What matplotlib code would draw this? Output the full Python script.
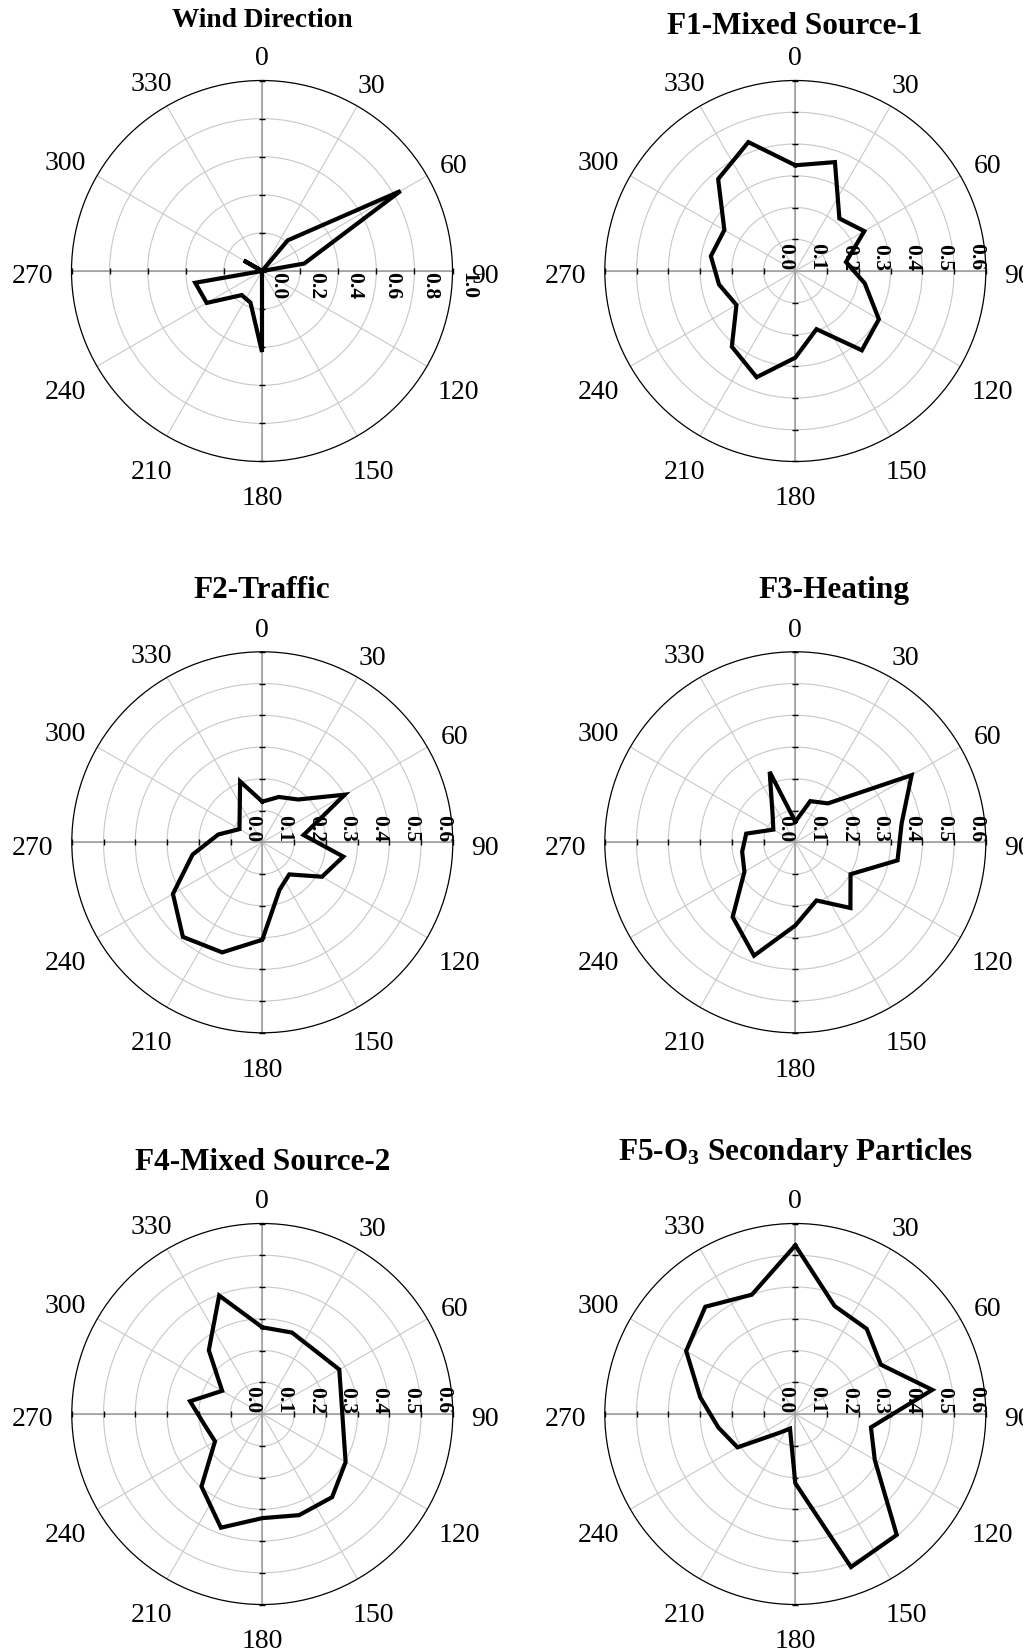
import numpy as np
import matplotlib
matplotlib.use("Agg")
import matplotlib.pyplot as plt
from matplotlib.patches import Rectangle

plt.rcParams['font.family'] = ['Liberation Serif', 'DejaVu Serif']
plt.rcParams['mathtext.fontset'] = 'custom'
plt.rcParams['mathtext.rm'] = 'Liberation Serif:bold'
plt.rcParams['mathtext.bf'] = 'Liberation Serif:bold'
plt.rcParams['mathtext.it'] = 'Liberation Serif:italic:bold'

# ---------------- data ----------------
directions = [0, 20, 40, 60, 80, 100, 120, 140, 160, 180,
              200, 220, 240, 260, 280, 300, 320, 340]

wind_direction = [0.0, 0.0, 0.21, 0.84, 0.225, 0.0, 0.0, 0.0, 0.0, 0.425,
                  0.177, 0.165, 0.335, 0.356, 0.0, 0.11, 0.0, 0.0]
f1_mixed_source_1 = [0.333, 0.365, 0.216, 0.251, 0.162, 0.222, 0.304, 0.326, 0.195, 0.273,
                     0.356, 0.311, 0.214, 0.244, 0.270, 0.258, 0.378, 0.432]
f2_traffic = [0.128, 0.152, 0.176, 0.300, 0.132, 0.259, 0.217, 0.132, 0.159, 0.307,
              0.369, 0.389, 0.325, 0.223, 0.141, 0.083, 0.111, 0.204]
f3_heating = [0.065, 0.138, 0.160, 0.423, 0.340, 0.327, 0.201, 0.270, 0.195, 0.262,
              0.380, 0.307, 0.185, 0.170, 0.157, 0.080, 0.111, 0.236]
f4_mixed_source_2 = [0.273, 0.273, 0.260, 0.280, 0.253, 0.259, 0.303, 0.342, 0.339, 0.328,
                     0.381, 0.298, 0.172, 0.186, 0.231, 0.146, 0.262, 0.397]
f5_o3_secondary = [0.531, 0.362, 0.350, 0.311, 0.438, 0.242, 0.289, 0.497, 0.513, 0.218,
                   0.049, 0.077, 0.210, 0.246, 0.304, 0.397, 0.441, 0.400]

titles = ["Wind Direction", "F1-Mixed Source-1", "F2-Traffic", "F3-Heating",
          "F4-Mixed Source-2", r"F5-O$_{\mathbf{3}}$ Secondary Particles"]

angle_ticks = [0, 30, 60, 90, 120, 150, 180, 210, 240, 270, 300, 330]
angle_labels = ["0", "30", "60", "90", "120", "150", "180", "210", "240", "270", "300", "330"]

wind_rticks = [0.0, 0.2, 0.4, 0.6, 0.8, 1.0]
wind_rlabels = ["0.0", "0.2", "0.4", "0.6", "0.8", "1.0"]
factor_rticks = [0.0, 0.1, 0.2, 0.3, 0.4, 0.5, 0.6]
factor_rlabels = ["0.0", "0.1", "0.2", "0.3", "0.4", "0.5", "0.6"]

# ---------------- layout ----------------
W, H = 1032, 1648
RPX = 190.5
PX2PT = 72.0 / 100.0

fig = plt.figure(figsize=(W / 100, H / 100), dpi=100)
fig.patch.set_facecolor("white")

panels = [
    # values, center px, ticks, labels, wind-style labels, title x, title baseline, title size
    (wind_direction, (262.0, 271.0), wind_rticks, wind_rlabels, True, 262.4, 27, 19.7),
    (f1_mixed_source_1, (795.3, 271.0), factor_rticks, factor_rlabels, False, 795.0, 34, 22.5),
    (f2_traffic, (262.3, 842.3), factor_rticks, factor_rlabels, False, 262.0, 598, 22.5),
    (f3_heating, (795.3, 842.3), factor_rticks, factor_rlabels, False, 833.5, 598, 22.5),
    (f4_mixed_source_2, (262.3, 1414.0), factor_rticks, factor_rlabels, False, 262.7, 1170, 22.5),
    (f5_o3_secondary, (795.3, 1414.0), factor_rticks, factor_rlabels, False, 796.0, 1160, 22.5),
]

for (vals, (cx, cy), rticks, rlabels, wind_style, tx, ty, tsize), title in zip(panels, titles):
    rmax = rticks[-1]
    ax = fig.add_axes([(cx - RPX) / W, 1 - (cy + RPX) / H, 2 * RPX / W, 2 * RPX / H],
                      projection="polar")
    ax.set_theta_zero_location("N")
    ax.set_theta_direction(-1)
    ax.set_ylim(0, rmax)
    ax.set_yticks(rticks[1:-1])
    ax.set_yticklabels([])
    ax.set_xticks(np.deg2rad(angle_ticks))
    ax.set_xticklabels([])
    ax.grid(True, color="#c8c8c8", lw=0.8)
    ax.tick_params(axis="x", direction="inout", length=4.5, width=0.8, color="black", pad=0)
    ax.tick_params(axis="y", length=0)
    ax.spines["polar"].set_color("black")
    ax.spines["polar"].set_linewidth(0.9)

    # main axes lines (0/90/180/270) in darker gray
    for a in [0, 90, 180, 270]:
        ax.plot([np.deg2rad(a)] * 2, [0, rmax], color="#9a9a9a", lw=1.1, zorder=1.6)

    # small black ticks at each ring on the main axes
    rings = np.array(rticks[1:])
    for a, m in [(0, "_"), (180, "_"), (90, "|"), (270, "|")]:
        ax.plot(np.full(len(rings), np.deg2rad(a)), rings, ls="none", marker=m,
                ms=4, mew=1.0, color="black", zorder=2, clip_on=False)

    # radial labels along the 90 degree axis
    for v, lab in zip(rticks, rlabels):
        if wind_style:
            ax.annotate(lab, xy=(np.pi / 2, v), xytext=(4.3, -0.7), textcoords="offset points",
                        rotation=270, ha="left", va="top", fontsize=15.5, fontweight="bold",
                        zorder=3, annotation_clip=False)
        else:
            ax.annotate(lab, xy=(np.pi / 2, v), xytext=(0, 0.3), textcoords="offset points",
                        rotation=270, ha="right", va="bottom", fontsize=15.5, fontweight="bold",
                        zorder=3, annotation_clip=False)

    # angle labels outside the circle
    for a, lab in zip(angle_ticks, angle_labels):
        ar = np.deg2rad(a)
        ux, uy = np.sin(ar), np.cos(ar)
        wh = 7.0 * len(lab)
        hh = 9.5
        ext = np.hypot(ux * wh, uy * hh)
        d = 18.0 + ext
        ox = ux * d
        oy = uy * d - 3.0 - 9.4 - 4.0 * max(0.0, -uy)
        ax.annotate(lab, xy=(ar, rmax), xytext=(ox * PX2PT, oy * PX2PT),
                    textcoords="offset points", ha="center", va="baseline",
                    fontsize=20, annotation_clip=False)

    # data polygon
    th = np.deg2rad(directions + [directions[0]])
    rr = list(vals) + [vals[0]]
    ax.plot(th, rr, color="black", lw=3.0, solid_joinstyle="miter", zorder=5, clip_on=False)

    fig.text(tx / W, 1 - ty / H, title, ha="center", va="baseline",
             fontsize=tsize, fontweight="bold")

# right edge of the reference image is blank past ~1023 px
fig.patches.append(Rectangle((1023 / W, 0), 1 - 1023 / W, 1, transform=fig.transFigure,
                             facecolor="white", edgecolor="none", zorder=100))

fig.savefig("out.png", dpi=100)
